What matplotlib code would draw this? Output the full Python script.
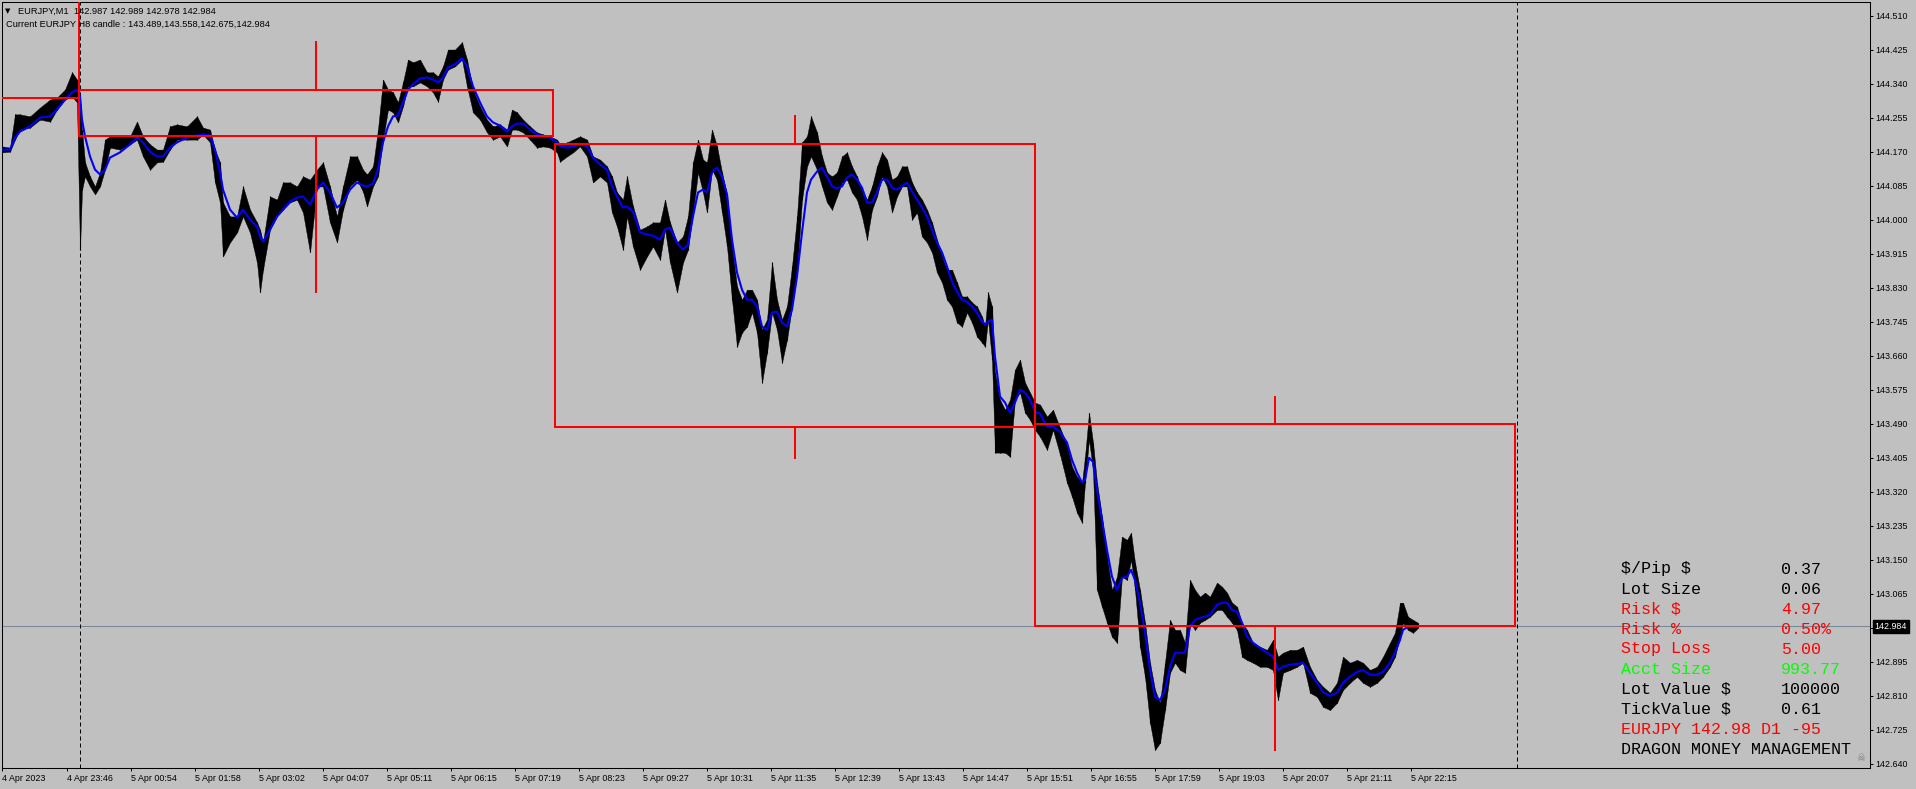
"""EURJPY M1 chart with H8 candle boxes and Dragon Money Management panel."""
import matplotlib
matplotlib.use("Agg")
import matplotlib.pyplot as plt
from matplotlib.transforms import blended_transform_factory
import numpy as np

plt.rcParams["font.family"] = ["Liberation Sans", "DejaVu Sans"]
plt.rcParams["text.parse_math"] = False

W, H = 1916, 789
BG = "#C0C0C0"
RED = "#FF0000"

# ── M1 price samples (bar index, 1 bar = 1 minute, 0 = 5 Apr 00:00) ──────────
BARS = [-77, -69, -64, -59, -49, -39, -29, -22, -14, -7,
        -2, 1, 3, 6, 11, 16, 21, 26, 31, 41,
        51, 58, 64, 71, 78, 84, 91, 98, 108, 118,
        124, 131, 136, 141, 144, 151, 158, 164, 171, 178,
        181, 184, 191, 198, 204, 211, 218, 224, 231, 238,
        244, 251, 258, 264, 271, 278, 284, 288, 294, 299,
        304, 309, 314, 319, 324, 329, 334, 341, 348, 354,
        359, 364, 369, 376, 383, 388, 394, 401, 408, 414,
        421, 428, 433, 438, 444, 451, 458, 464, 471, 478,
        481, 488, 494, 501, 508, 514, 521, 528, 533, 538,
        544, 548, 554, 561, 568, 574, 581, 586, 591, 598,
        604, 609, 614, 619, 624, 628, 633, 638, 643, 648,
        653, 658, 663, 668, 673, 678, 683, 688, 693, 698,
        703, 708, 713, 718, 723, 728, 732, 738, 743, 748,
        753, 758, 763, 768, 773, 778, 783, 788, 793, 798,
        803, 808, 813, 818, 823, 828, 833, 838, 843, 848,
        853, 858, 863, 868, 873, 878, 883, 888, 893, 898,
        903, 906, 909, 913, 916, 921, 926, 931, 936, 941,
        946, 951, 956, 961, 968, 974, 981, 988, 993, 998,
        1003, 1006, 1010, 1014, 1018, 1023, 1028, 1033, 1038, 1043,
        1048, 1052, 1056, 1061, 1066, 1071, 1076, 1081, 1086, 1091,
        1096, 1101, 1106, 1111, 1116, 1121, 1126, 1131, 1138, 1143,
        1148, 1153, 1158, 1163, 1168, 1174, 1181, 1188, 1194, 1199,
        1204, 1211, 1218, 1224, 1231, 1238, 1244, 1251, 1258, 1264,
        1271, 1278, 1284, 1291, 1298, 1304, 1311, 1316, 1321, 1324,
        1329, 1334, 1339]

HIGH = [144.183, 144.180, 144.263, 144.263, 144.258, 144.280, 144.300, 144.305, 144.325, 144.368,
        144.350, 144.313, 144.225, 144.143, 144.108, 144.083, 144.118, 144.200, 144.208, 144.208,
        144.208, 144.245, 144.208, 144.188, 144.175, 144.175, 144.233, 144.238, 144.233, 144.258,
        144.230, 144.225, 144.175, 144.143, 144.043, 144.008, 144.008, 144.083, 144.025, 143.993,
        143.975, 143.943, 144.058, 144.050, 144.093, 144.093, 144.083, 144.108, 144.100, 144.125,
        144.143, 144.083, 144.008, 144.083, 144.158, 144.158, 144.125, 144.113, 144.133, 144.225,
        144.350, 144.325, 144.318, 144.293, 144.343, 144.400, 144.393, 144.400, 144.368, 144.368,
        144.358, 144.383, 144.425, 144.425, 144.443, 144.400, 144.325, 144.283, 144.250, 144.233,
        144.238, 144.225, 144.275, 144.268, 144.250, 144.233, 144.218, 144.213, 144.208, 144.200,
        144.188, 144.193, 144.200, 144.208, 144.200, 144.158, 144.150, 144.133, 144.108, 144.068,
        144.050, 144.108, 144.033, 143.975, 143.983, 143.993, 143.993, 144.050, 143.993, 143.943,
        143.958, 144.008, 144.143, 144.200, 144.150, 144.143, 144.225, 144.183, 144.118, 144.063,
        143.933, 143.833, 143.800, 143.825, 143.825, 143.800, 143.725, 143.750, 143.893, 143.800,
        143.750, 143.783, 143.883, 144.008, 144.193, 144.208, 144.258, 144.218, 144.158, 144.118,
        144.108, 144.118, 144.158, 144.168, 144.133, 144.108, 144.075, 144.050, 144.083, 144.133,
        144.168, 144.150, 144.100, 144.108, 144.133, 144.133, 144.093, 144.068, 144.050, 144.025,
        143.993, 143.950, 143.908, 143.875, 143.875, 143.843, 143.808, 143.808, 143.793, 143.783,
        143.758, 143.733, 143.818, 143.783, 143.618, 143.550, 143.525, 143.550, 143.625, 143.650,
        143.593, 143.568, 143.543, 143.538, 143.508, 143.525, 143.480, 143.438, 143.383, 143.358,
        143.343, 143.408, 143.518, 143.443, 143.343, 143.258, 143.158, 143.075, 143.108, 143.208,
        143.200, 143.218, 143.143, 143.075, 142.993, 142.893, 142.825, 142.793, 142.893, 143.000,
        142.975, 142.975, 142.943, 143.100, 143.075, 143.058, 143.068, 143.058, 143.093, 143.083,
        143.068, 143.043, 143.033, 142.993, 142.975, 142.943, 142.933, 142.925, 142.950, 142.908,
        142.918, 142.925, 142.925, 142.933, 142.883, 142.850, 142.833, 142.818, 142.843, 142.908,
        142.893, 142.900, 142.893, 142.875, 142.883, 142.908, 142.943, 142.968, 143.043, 143.043,
        143.008, 143.000, 142.993]

LOW = [144.168, 144.170, 144.200, 144.225, 144.230, 144.250, 144.245, 144.275, 144.300, 144.308,
       144.293, 143.925, 144.075, 144.108, 144.083, 144.063, 144.083, 144.125, 144.180, 144.175,
       144.188, 144.200, 144.158, 144.125, 144.143, 144.145, 144.175, 144.200, 144.200, 144.200,
       144.213, 144.193, 144.093, 144.043, 143.908, 143.943, 143.968, 144.008, 143.968, 143.893,
       143.818, 143.875, 143.975, 144.008, 144.025, 144.043, 144.050, 144.018, 143.918, 144.083,
       144.083, 143.993, 143.943, 144.025, 144.083, 144.100, 144.070, 144.033, 144.083, 144.108,
       144.200, 144.275, 144.268, 144.243, 144.283, 144.333, 144.333, 144.343, 144.333, 144.318,
       144.295, 144.350, 144.375, 144.383, 144.400, 144.333, 144.268, 144.250, 144.218, 144.200,
       144.208, 144.183, 144.225, 144.225, 144.218, 144.200, 144.180, 144.183, 144.180, 144.168,
       144.145, 144.158, 144.168, 144.183, 144.158, 144.093, 144.108, 144.093, 144.018, 143.983,
       143.925, 144.008, 143.933, 143.875, 143.908, 143.933, 143.900, 143.975, 143.893, 143.818,
       143.893, 143.925, 144.018, 144.118, 144.068, 144.018, 144.125, 144.100, 144.018, 143.933,
       143.800, 143.683, 143.718, 143.733, 143.768, 143.718, 143.593, 143.668, 143.768, 143.725,
       143.643, 143.700, 143.783, 143.868, 144.050, 144.133, 144.158, 144.125, 144.083, 144.043,
       144.025, 144.058, 144.093, 144.100, 144.068, 144.050, 144.008, 143.950, 144.025, 144.058,
       144.108, 144.083, 144.018, 144.058, 144.083, 144.083, 144.000, 144.018, 143.958, 143.943,
       143.918, 143.868, 143.843, 143.800, 143.783, 143.743, 143.733, 143.768, 143.743, 143.708,
       143.693, 143.683, 143.750, 143.650, 143.418, 143.418, 143.418, 143.408, 143.550, 143.568,
       143.518, 143.500, 143.475, 143.458, 143.425, 143.475, 143.413, 143.343, 143.308, 143.268,
       143.243, 143.343, 143.450, 143.375, 143.075, 143.033, 142.993, 142.958, 142.943, 143.108,
       143.100, 143.150, 143.075, 142.933, 142.858, 142.743, 142.675, 142.693, 142.775, 142.868,
       142.893, 142.875, 142.868, 142.993, 142.975, 142.993, 143.000, 143.008, 143.025, 143.025,
       143.008, 142.993, 142.975, 142.908, 142.900, 142.893, 142.883, 142.883, 142.875, 142.800,
       142.868, 142.875, 142.883, 142.893, 142.818, 142.808, 142.783, 142.775, 142.793, 142.825,
       142.843, 142.858, 142.843, 142.833, 142.843, 142.858, 142.883, 142.908, 142.958, 142.993,
       142.975, 142.968, 142.980]

MA = [144.175, 144.175, 144.205, 144.220, 144.233, 144.255, 144.258, 144.275, 144.300, 144.318,
      144.325, 144.308, 144.250, 144.208, 144.158, 144.125, 144.113, 144.125, 144.155, 144.168,
      144.188, 144.205, 144.193, 144.170, 144.158, 144.158, 144.180, 144.193, 144.205, 144.210,
      144.213, 144.210, 144.175, 144.118, 144.075, 144.025, 144.005, 144.025, 144.000, 143.983,
      143.958, 143.945, 143.975, 144.008, 144.025, 144.045, 144.055, 144.058, 144.038, 144.075,
      144.093, 144.068, 144.030, 144.043, 144.075, 144.093, 144.085, 144.083, 144.090, 144.125,
      144.193, 144.233, 144.258, 144.260, 144.293, 144.325, 144.338, 144.353, 144.355, 144.350,
      144.343, 144.355, 144.380, 144.388, 144.403, 144.383, 144.333, 144.293, 144.258, 144.243,
      144.235, 144.220, 144.233, 144.240, 144.240, 144.225, 144.213, 144.208, 144.205, 144.193,
      144.183, 144.180, 144.183, 144.188, 144.183, 144.155, 144.138, 144.125, 144.083, 144.058,
      144.030, 144.033, 144.020, 143.968, 143.963, 143.960, 143.950, 143.975, 143.980, 143.943,
      143.925, 143.938, 144.008, 144.068, 144.075, 144.068, 144.118, 144.130, 144.108, 144.063,
      143.950, 143.868, 143.825, 143.800, 143.800, 143.783, 143.733, 143.725, 143.768, 143.770,
      143.743, 143.733, 143.775, 143.858, 143.968, 144.068, 144.100, 144.120, 144.130, 144.108,
      144.083, 144.078, 144.083, 144.105, 144.113, 144.100, 144.080, 144.043, 144.043, 144.068,
      144.100, 144.100, 144.080, 144.075, 144.083, 144.093, 144.070, 144.050, 144.030, 144.008,
      143.975, 143.943, 143.918, 143.883, 143.845, 143.820, 143.800, 143.795, 143.783, 143.768,
      143.745, 143.738, 143.745, 143.750, 143.658, 143.558, 143.543, 143.518, 143.543, 143.575,
      143.568, 143.550, 143.520, 143.515, 143.483, 143.483, 143.470, 143.443, 143.400, 143.368,
      143.343, 143.350, 143.405, 143.395, 143.325, 143.250, 143.175, 143.108, 143.075, 143.105,
      143.108, 143.125, 143.100, 143.043, 142.968, 142.875, 142.808, 142.800, 142.825, 142.883,
      142.918, 142.918, 142.918, 142.983, 143.000, 143.005, 143.008, 143.013, 143.038, 143.043,
      143.043, 143.025, 143.020, 142.993, 142.958, 142.943, 142.930, 142.918, 142.908, 142.875,
      142.883, 142.888, 142.890, 142.893, 142.868, 142.843, 142.820, 142.810, 142.818, 142.843,
      142.858, 142.870, 142.875, 142.863, 142.863, 142.870, 142.893, 142.918, 142.950, 142.975,
      142.983, 142.983, 142.983]

# ── H8 candles drawn as boxes (bar positions of start / end) ──────────────────
H8_START = [-480, 0, 476, 956]
H8_END = [0, 474, 956, 1436]
H8_OPEN = [144.620, 144.325, 144.188, 143.489]
H8_HIGH = [144.700, 144.443, 144.260, 143.558]
H8_LOW = [144.200, 143.818, 143.405, 142.675]
H8_CLOSE = [144.305, 144.210, 143.483, 142.984]

DAY_SEPARATORS = [1, 1438]
LAST_PRICE = 142.984

TICK_BARS = [-77] + list(range(-12, 1333, 64))
TICK_LABELS = ["4 Apr 2023", "4 Apr 23:46", "5 Apr 00:54", "5 Apr 01:58", "5 Apr 03:02",
               "5 Apr 04:07", "5 Apr 05:11", "5 Apr 06:15", "5 Apr 07:19", "5 Apr 08:23",
               "5 Apr 09:27", "5 Apr 10:31", "5 Apr 11:35", "5 Apr 12:39", "5 Apr 13:43",
               "5 Apr 14:47", "5 Apr 15:51", "5 Apr 16:55", "5 Apr 17:59", "5 Apr 19:03",
               "5 Apr 20:07", "5 Apr 21:11", "5 Apr 22:15"]
PRICE_TICKS = np.round(144.510 - 0.085 * np.arange(23), 3)

# ── Money management panel ────────────────────────────────────────────────────
PANEL_LABELS = ["$/Pip $", "Lot Size", "Risk $", "Risk %", "Stop Loss",
                "Acct Size", "Lot Value $", "TickValue $"]
PANEL_VALUES = ["0.37", "0.06", "4.97", "0.50%", "5.00", "993.77", "100000", "0.61"]
PANEL_COLORS = ["black", "black", RED, RED, RED, "#00FF00", "black", "black"]
PANEL_FOOTER = [("EURJPY 142.98 D1 -95", RED), ("DRAGON MONEY MANAGEMENT", "black")]


def fx(px):
    return px / W


def fy(py):
    return 1 - py / H


fig = plt.figure(figsize=(W / 100, H / 100), dpi=100, facecolor=BG)
ax = fig.add_axes([fx(2), 1 - 768 / H, (1870 - 2) / W, (768 - 1.5) / H])
ax.set_facecolor(BG)
ax.set_xlim(-77, 1791)
ax.set_ylim(142.63, 144.545)

# price bars and moving average
ax.fill_between(BARS, LOW, HIGH, color="black", lw=0.3, zorder=2)
ax.vlines(BARS, LOW, HIGH, color="black", lw=0.8, zorder=2)
ax.plot(BARS, MA, color="#0000FF", lw=1.5, zorder=3)

# H8 candle boxes
for s, e, o, hi, lo, c in zip(H8_START, H8_END, H8_OPEN, H8_HIGH, H8_LOW, H8_CLOSE):
    top, bot = max(o, c), min(o, c)
    ax.plot([s, e, e, s, s], [bot, bot, top, top, bot], color=RED, lw=1.44,
            zorder=4, solid_joinstyle="miter")
    mid = (s + e) / 2
    ax.plot([mid, mid], [top, hi], color=RED, lw=1.44, zorder=4)
    ax.plot([mid, mid], [bot, lo], color=RED, lw=1.44, zorder=4)

for d in DAY_SEPARATORS:
    ax.axvline(d, color="black", lw=0.72, ls=(0, (4, 3)), zorder=1.5)
ax.axhline(LAST_PRICE, color="#778899", lw=0.75, zorder=1.4)

# axes styling
for sp in ax.spines.values():
    sp.set_color("black")
    sp.set_linewidth(0.75)
ax.yaxis.tick_right()
ax.set_yticks(PRICE_TICKS)
ax.set_yticklabels([f"{v:.3f}" for v in PRICE_TICKS])
ax.set_xticks(TICK_BARS)
ax.set_xticklabels(TICK_LABELS)
for lab in ax.get_xticklabels():
    lab.set_ha("left")
ax.tick_params(axis="both", direction="out", length=2.5, width=0.72,
               labelsize=6.4, colors="black", pad=1.5)

trans = blended_transform_factory(ax.transAxes, ax.transData)
ax.text(1.0025, LAST_PRICE, "142.984", transform=trans, ha="left", va="center",
        color="white", fontsize=6.4, zorder=6,
        bbox=dict(boxstyle="square,pad=0.2", fc="black", ec="black"))

# header text
fig.text(fx(5), fy(11), "\u25BC", fontsize=5, va="center", ha="left",
         family=["DejaVu Sans"], zorder=1)
fig.text(fx(18), fy(11), "EURJPY,M1  142.987 142.989 142.978 142.984",
         fontsize=6.7, va="center", ha="left", zorder=1)
fig.text(fx(6), fy(24), "Current EURJPY H8 candle : 143.489,143.558,142.675,142.984",
         fontsize=6.7, va="center", ha="left", zorder=1)

# panel
mono = ["Liberation Mono", "DejaVu Sans Mono"]
for i, (lab, val, col) in enumerate(zip(PANEL_LABELS, PANEL_VALUES, PANEL_COLORS)):
    y = 569 + 20 * i
    fig.text(fx(1621), fy(y), lab, color=col, fontsize=12, family=mono, va="center")
    fig.text(fx(1781), fy(y), val, color=col, fontsize=12, family=mono, va="center")
for j, (txt, col) in enumerate(PANEL_FOOTER):
    y = 569 + 20 * (len(PANEL_LABELS) + j)
    fig.text(fx(1621), fy(y), txt, color=col, fontsize=12, family=mono, va="center")
fig.text(fx(1856), fy(758), "\u2620", color="#808080", fontsize=7,
         family=["DejaVu Sans"], va="center")

fig.savefig("out.png", dpi=100, facecolor=BG)
